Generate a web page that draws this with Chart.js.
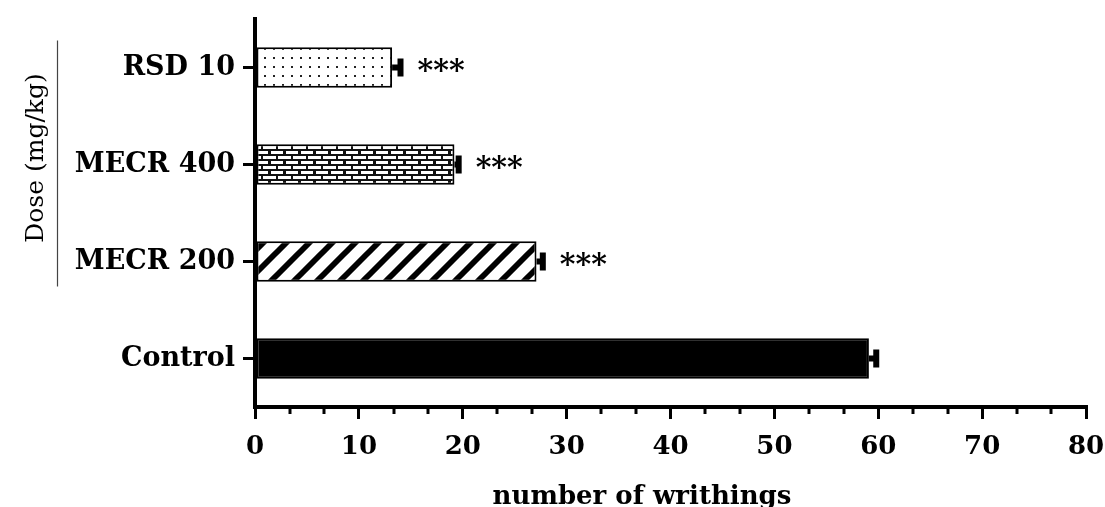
<!DOCTYPE html>
<html>
<head>
<meta charset="utf-8">
<script src="https://cdn.jsdelivr.net/npm/chart.js@4.4.1/dist/chart.umd.min.js"></script>
<style>
  html, body { margin: 0; padding: 0; background: #fff; }
</style>
</head>
<body>
<canvas id="writhingChart" width="1105" height="507"></canvas>
<script>
// ── Data ──
const categories    = ["RSD 10", "MECR 400", "MECR 200", "Control"];
const meanWrithings = [13.2, 19.2, 27.1, 59.1];
const semWrithings  = [1.0, 0.6, 0.8, 0.9];
const significance  = ["***", "***", "***", ""];
const xTickValues   = [0, 10, 20, 30, 40, 50, 60, 70, 80];

const FONT = "'DejaVu Serif', 'Liberation Serif', serif";

// ── Fill patterns ──
function makePattern(kind) {
    const c = document.createElement("canvas");
    const g = c.getContext("2d");
    if (kind === "dots") {
        c.width = 9; c.height = 9;
        g.fillStyle = "#fff"; g.fillRect(0, 0, 9, 9);
        g.fillStyle = "#222"; g.fillRect(3, 3, 2, 2);
    } else if (kind === "bricks") {
        c.width = 15; c.height = 10;
        g.fillStyle = "#111"; g.fillRect(0, 0, 15, 10);
        g.fillStyle = "#fff";
        g.fillRect(1, 1, 12, 3);
        g.fillRect(8, 6, 7, 3);
        g.fillRect(0, 6, 6, 3);
    } else if (kind === "stripes") {
        const s = 23;
        c.width = s; c.height = s;
        g.fillStyle = "#fff"; g.fillRect(0, 0, s, s);
        g.strokeStyle = "#000"; g.lineWidth = 5.8;
        g.beginPath();
        g.moveTo(0, s); g.lineTo(s, 0);
        g.moveTo(-s / 2, s / 2); g.lineTo(s / 2, -s / 2);
        g.moveTo(s / 2, s * 1.5); g.lineTo(s * 1.5, s / 2);
        g.stroke();
    }
    return g.createPattern(c, "repeat");
}

const barFills = [makePattern("dots"), makePattern("bricks"), makePattern("stripes"), "#000"];

// ── Extra drawing: minor ticks, error bars, stars, titles ──
const extrasPlugin = {
    id: "extras",
    afterDraw(chart) {
        const ctx = chart.ctx;
        const xs = chart.scales.x;
        const ys = chart.scales.y;
        const area = chart.chartArea;
        ctx.save();

        // minor ticks on x axis
        ctx.strokeStyle = "#000";
        ctx.lineWidth = 3;
        for (let i = 0; i < xTickValues.length - 1; i++) {
            const step = (xTickValues[i + 1] - xTickValues[i]) / 3;
            for (let k = 1; k < 3; k++) {
                const px = Math.round(xs.getPixelForValue(xTickValues[i] + step * k));
                ctx.beginPath();
                ctx.moveTo(px, area.bottom);
                ctx.lineTo(px, area.bottom + 7);
                ctx.stroke();
            }
        }

        // error bars (mean + SEM) and significance marks
        meanWrithings.forEach((m, i) => {
            const y  = ys.getPixelForValue(i);
            const x1 = xs.getPixelForValue(m);
            const x2 = xs.getPixelForValue(m + semWrithings[i]);
            ctx.fillStyle = "#000";
            ctx.fillRect(x1, y - 3, x2 - x1, 6);
            ctx.fillRect(x2 - 5, y - 9, 6, 18);
            if (significance[i]) {
                ctx.font = "bold 30px " + FONT;
                ctx.textAlign = "left";
                ctx.textBaseline = "alphabetic";
                ctx.fillText(significance[i], x2 + 15, y + 12);
            }
        });

        // x axis title
        ctx.fillStyle = "#000";
        ctx.font = "bold 26px " + FONT;
        ctx.textAlign = "center";
        ctx.textBaseline = "alphabetic";
        ctx.fillText("number of writhings", 642, 504);

        // y axis title and bracket line
        ctx.save();
        ctx.translate(36, 158);
        ctx.rotate(-Math.PI / 2);
        ctx.font = "25px " + FONT;
        ctx.textBaseline = "middle";
        ctx.fillText("Dose (mg/kg)", 0, 0);
        ctx.restore();

        const yTop = ys.getPixelForValue(0) - 27;
        const yBot = ys.getPixelForValue(2) + 25;
        ctx.strokeStyle = "#444";
        ctx.lineWidth = 1.2;
        ctx.beginPath();
        ctx.moveTo(57.5, yTop);
        ctx.lineTo(57.5, yBot);
        ctx.stroke();

        ctx.restore();
    }
};

new Chart(document.getElementById("writhingChart"), {
    type: "bar",
    data: {
        labels: categories,
        datasets: [{
            data: meanWrithings,
            backgroundColor: barFills,
            borderColor: "#000",
            borderWidth: 2,
            borderSkipped: false,
            barPercentage: 0.42,
            categoryPercentage: 1
        }]
    },
    options: {
        indexAxis: "y",
        responsive: false,
        animation: false,
        layout: { padding: { top: 19, right: 19, bottom: 0, left: 0 } },
        plugins: {
            legend: { display: false },
            tooltip: { enabled: false }
        },
        scales: {
            x: {
                type: "linear",
                min: 0,
                max: 80,
                afterFit: s => { s.height = 100; s.paddingLeft = 0; s.paddingRight = 0; },
                afterBuildTicks: s => { s.ticks = xTickValues.map(v => ({ value: v })); },
                ticks: {
                    color: "#000",
                    padding: 13,
                    maxRotation: 0,
                    font: { family: FONT, size: 26, weight: "bold" }
                },
                grid: { drawOnChartArea: false, color: "#000", lineWidth: 3, tickLength: 12 },
                border: { color: "#000", width: 4 }
            },
            y: {
                afterFit: s => { s.width = 255; s.paddingTop = 0; s.paddingBottom = 0; },
                ticks: {
                    color: "#000",
                    padding: 8,
                    font: { family: FONT, size: 27, weight: "bold" }
                },
                grid: { drawOnChartArea: false, offset: false, color: "#000", lineWidth: 3, tickLength: 12 },
                border: { color: "#000", width: 4 }
            }
        }
    },
    plugins: [extrasPlugin]
});
</script>
</body>
</html>
